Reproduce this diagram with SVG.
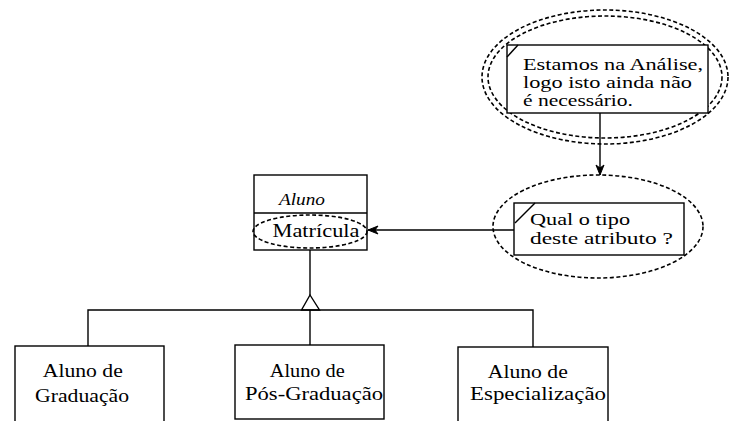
<svg xmlns="http://www.w3.org/2000/svg" width="729" height="421" viewBox="0 0 729 421">
  <style>
    .box { fill: #fff; stroke: #000; stroke-width: 1.4; }
    .line { fill: none; stroke: #000; stroke-width: 1.4; }
    .cloud { fill: none; stroke: #000; stroke-width: 1.6; stroke-dasharray: 4 2.5; }
    text { font-family: 'Liberation Serif', 'Times New Roman', 'DejaVu Serif', serif; fill: #000; }
  </style>
  <defs>
    <marker id="arrow" viewBox="0 0 12 10" refX="11" refY="5" markerWidth="12" markerHeight="10" markerUnits="userSpaceOnUse" orient="auto">
      <path d="M1,1 L11,5 L1,9 L4,5 Z" fill="#000" stroke="#000" stroke-width="1"/>
    </marker>
  </defs>

  <rect width="729" height="421" fill="#fff"/>

  <!-- connectors -->
  <g id="connectors">
    <line class="line" x1="600" y1="113" x2="600" y2="175" marker-end="url(#arrow)"/>
    <line class="line" x1="514" y1="230" x2="368" y2="230" marker-end="url(#arrow)"/>
    <line class="line" x1="310" y1="250" x2="310" y2="295"/>
    <polygon class="line" points="310,295 301.5,310 319.5,310"/>
    <polyline class="line" points="88,346 88,310 533,310 533,347"/>
    <line class="line" x1="310" y1="310" x2="310" y2="345"/>
  </g>

  <!-- note: analysis stage -->
  <g id="note-analise">
    <ellipse class="cloud" cx="605" cy="77" rx="123" ry="67"/>
    <ellipse class="cloud" cx="605" cy="77" rx="117" ry="61"/>
    <rect class="box" x="507" y="45" width="201" height="68"/>
    <line class="line" x1="507" y1="57" x2="518" y2="45"/>
    <text font-size="16" font-family="Liberation Serif, serif">
      <tspan x="523" y="70" textLength="180" lengthAdjust="spacingAndGlyphs">Estamos na Análise,</tspan>
      <tspan x="523" y="88" textLength="169" lengthAdjust="spacingAndGlyphs">logo isto ainda não</tspan>
      <tspan x="523" y="106" textLength="110" lengthAdjust="spacingAndGlyphs">é necessário.</tspan>
    </text>
  </g>

  <!-- note: attribute type -->
  <g id="note-tipo">
    <ellipse class="cloud" cx="598" cy="226.5" rx="105" ry="51.5"/>
    <rect class="box" x="514" y="203" width="170" height="52"/>
    <line class="line" x1="515" y1="223" x2="535" y2="203"/>
    <text font-size="17" font-family="Liberation Serif, serif">
      <tspan x="530" y="225" textLength="100" lengthAdjust="spacingAndGlyphs">Qual o tipo</tspan>
      <tspan x="530" y="244" textLength="143" lengthAdjust="spacingAndGlyphs">deste atributo ?</tspan>
    </text>
  </g>

  <!-- class Aluno -->
  <g id="aluno">
    <rect class="box" x="254" y="175" width="113" height="75"/>
    <line class="line" x1="254" y1="213" x2="367" y2="213"/>
    <text font-size="17" font-style="italic" font-family="Liberation Serif, serif" x="302" y="205" text-anchor="middle" textLength="46" lengthAdjust="spacingAndGlyphs">Aluno</text>
    <ellipse class="cloud" cx="310" cy="231.5" rx="57" ry="16.5" stroke-dasharray="3.5 2.5"/>
    <text font-size="18" font-family="Liberation Serif, serif" x="316" y="237" text-anchor="middle" textLength="87" lengthAdjust="spacingAndGlyphs">Matrícula</text>
  </g>

  <!-- subclasses -->
  <g id="aluno-graduacao">
    <rect class="box" x="15" y="346" width="149" height="76"/>
    <text font-size="18" font-family="Liberation Serif, serif" text-anchor="middle">
      <tspan x="85" y="377" textLength="80" lengthAdjust="spacingAndGlyphs">Aluno de</tspan>
      <tspan x="82" y="402" textLength="94" lengthAdjust="spacingAndGlyphs">Graduação</tspan>
    </text>
  </g>

  <g id="aluno-pos-graduacao">
    <rect class="box" x="235" y="345" width="149" height="74"/>
    <text font-size="18" font-family="Liberation Serif, serif" text-anchor="middle">
      <tspan x="309.5" y="377" textLength="75" lengthAdjust="spacingAndGlyphs">Aluno de</tspan>
      <tspan x="314" y="400" textLength="138" lengthAdjust="spacingAndGlyphs">Pós-Graduação</tspan>
    </text>
  </g>

  <g id="aluno-especializacao">
    <rect class="box" x="458" y="347" width="150" height="76"/>
    <text font-size="18" font-family="Liberation Serif, serif" text-anchor="middle">
      <tspan x="530" y="378" textLength="80" lengthAdjust="spacingAndGlyphs">Aluno de</tspan>
      <tspan x="538" y="400" textLength="136" lengthAdjust="spacingAndGlyphs">Especialização</tspan>
    </text>
  </g>
</svg>
